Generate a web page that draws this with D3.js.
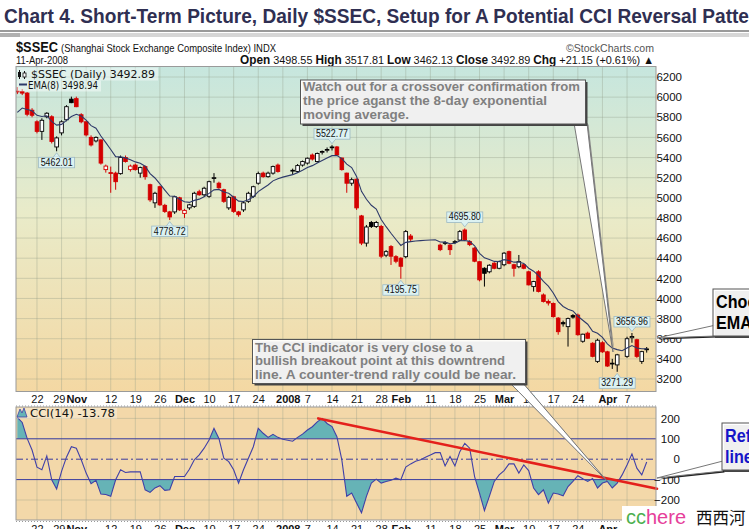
<!DOCTYPE html>
<html><head><meta charset="utf-8">
<script src="https://cdn.jsdelivr.net/npm/d3@7/dist/d3.min.js"></script>
<style>
html,body{margin:0;padding:0;background:#fff;overflow:hidden;}
svg{display:block;font-family:"Liberation Sans",Arial,sans-serif;}
</style></head><body>
<svg id="chart" width="749" height="529"></svg>
<script>
// ---------------- DATA ----------------
const titleText = "Chart 4. Short-Term Picture, Daily $SSEC, Setup for A Potential CCI Reversal Pattern";
const symbolText = "$SSEC";
const symbolName = "(Shanghai Stock Exchange Composite Index) INDX";
const dateText = "11-Apr-2008";
const quoteParts = [["Open", " 3498.55 "], ["High", " 3517.81 "], ["Low", " 3462.13 "], ["Close", " 3492.89 "], ["Chg", " +21.15 (+0.61%) \u25B2"]];
const legendPrice = "$SSEC (Daily) 3492.89";
const legendEma = "EMA(8) 3498.94";
const legendCci = "CCI(14) -13.78";

const openP = [6060,6055,6040,5870,5755,5660,5805,5805,5505,5645,5775,5980,5985,5825,5755,5600,5565,5575,5280,5250,
5245,5240,5400,5280,5325,5245,5310,5130,4950,5110,4925,4860,4860,5000,4845,4900,4915,5060,5030,5015,
5195,5145,5080,4900,5010,4860,4880,4965,5015,5145,5245,5210,5245,5325,5262,5262,5270,5262,5325,5345,
5425,5360,5455,5475,5505,5505,5395,5245,5145,5185,4820,4550,4755,4715,4715,4430,4515,4415,4400,4415,
4620,4590,4590,4590,4590,4590,4530,4550,4530,4560,4580,4680,4565,4500,4365,4300,4265,4350,4300,4335,
4465,4335,4315,4335,4265,4118,4265,4035,3970,3950,3805,3760,3720,3830,3835,3575,3655,3555,3375,3560,
3470,3350,3340,3440,3425,3610,3590,3375,3498.55];
const highP = [6100,6080,6050,5890,5770,5790,5850,5820,5610,5770,5920,6005,6005,5840,5760,5620,5610,5580,5330,5310,
5260,5420,5420,5330,5340,5310,5320,5140,5060,5120,4940,4870,5020,5010,4890,4940,5060,5080,5110,5170,
5245,5160,5090,5020,5020,4870,4960,5060,5120,5260,5260,5260,5320,5340,5262,5262,5290,5335,5370,5400,
5440,5450,5470,5500,5522.77,5515,5400,5250,5200,5190,4830,4730,4770,4770,4730,4480,4530,4430,4410,4680,
4640,4590,4590,4590,4590,4590,4545,4570,4540,4580,4680,4695.80,4580,4510,4370,4310,4340,4360,4375,4460,
4475,4345,4432,4345,4275,4175,4280,4050,3990,3960,3815,3780,3810,3845,3850,3650,3670,3565,3600,3575,
3480,3400,3450,3440,3620,3656.96,3600,3480,3517.81];
const lowP = [6030,6020,5810,5800,5640,5575,5790,5540,5462.01,5620,5760,5940,5900,5740,5610,5510,5550,5330,5250,5050,
5080,5230,5350,5260,5270,5200,5180,4960,4900,4920,4850,4778.72,4840,4870,4800,4880,4900,5020,5010,5000,
5150,5090,4950,4880,4850,4812,4860,4950,5000,5130,5200,5200,5230,5250,5262,5262,5230,5250,5310,5330,
5370,5350,5430,5450,5470,5420,5270,5050,5120,4880,4530,4515,4700,4700,4400,4410,4333,4350,4195.75,4400,
4570,4590,4590,4590,4590,4590,4470,4530,4432,4540,4570,4570,4520,4360,4170,4118,4250,4290,4290,4320,
4340,4217,4300,4290,4130,4068,4060,3960,3930,3810,3640,3720,3522,3800,3630,3560,3600,3415,3360,3460,
3320,3300,3271.29,3440,3410,3560,3410,3350,3462.13];
const closeP = [6055,6040,5830,5820,5660,5770,5840,5560,5595,5755,5905,5945,5905,5755,5625,5525,5600,5345,5315,5245,
5160,5400,5360,5315,5280,5300,5210,4980,5045,4930,4865,4810,5010,4880,4875,4930,5045,5030,5095,5160,
5200,5100,4965,5005,4865,4832,4950,5045,5110,5240,5210,5245,5310,5262,5262,5262,5273,5320,5360,5393,
5385,5440,5460,5480,5500,5425,5280,5145,5180,4900,4550,4710,4715,4755,4420,4465,4420,4370,4320,4664,
4590,4590,4590,4590,4590,4590,4485,4555,4485,4565,4664,4585,4535,4370,4185,4250,4330,4300,4365,4450,
4350,4300,4366,4300,4135,4168,4070,3970,3955,3820,3670,3748,3800,3815,3640,3645,3605,3425,3585,3470,
3329,3357,3440,3440,3600,3622,3425,3471.74,3492.89];
const emaSeed = 5790;   // EMA(8) value just before the first bar
const cciValues = [205,180,102,45,-39,-52,16,-101,-146,-60,10,61,54,-3,-68,-120,-104,-171,-173,-182,
-101,-52,-65,-62,-62,-62,-150,-163,-141,-130,-153,-150,-85,-85,-85,-49,-3,21,54,94,
151,102,5,-12,-52,-117,-52,5,61,151,127,107,122,107,98,93,88,107,123,143,
159,183,200,175,160,110,-3,-182,-166,-215,-263,-182,-117,-98,-117,-109,-103,-93,-101,-39,
-23,-10,-3,10,21,32,32,-33,13,-33,37,78,54,-85,-166,-252,-182,-109,-77,-56,
-23,-23,-68,-28,-56,-141,-174,-150,-215,-166,-171,-179,-134,-109,-81,-96,-109,-95,-141,-117,
-109,-141,-117,-77,-28,26,-44,-77,-13.78];

const priceTicks = [3200,3400,3600,3800,4000,4200,4400,4600,4800,5000,5200,5400,5600,5800,6000,6200];
const cciTicks = [-200,-100,0,100,200];
const dateLabels = [["2007-10-22","22"],["2007-10-29","29"],["2007-11-01","Nov"],["2007-11-12","12"],["2007-11-19","19"],["2007-11-26","26"],
["2007-12-03","Dec"],["2007-12-10","10"],["2007-12-17","17"],["2007-12-24","24"],["2008-01-01","2008"],["2008-01-07","7"],["2008-01-14","14"],
["2008-01-21","21"],["2008-01-28","28"],["2008-02-01","Feb"],["2008-02-11","11"],["2008-02-18","18"],["2008-02-25","25"],["2008-03-03","Mar"],
["2008-03-10","10"],["2008-03-17","17"],["2008-03-24","24"],["2008-04-01","Apr"],["2008-04-07","7"]];
const extremeLabels = [["2007-10-26","5462.01","low"],["2007-11-28","4778.72","low"],["2008-01-14","5522.77","high"],["2008-02-01","4195.75","low"],
["2008-02-20","4695.80","high"],["2008-04-03","3271.29","low"],["2008-04-08","3656.96","high"]];
const trendLine = [[61.2, 200], [130.1, -145]];   // [bar position, CCI value]
const noteTop = ["Watch out for a crossover confirmation from","the price aganst the 8-day exponential","moving average."];
const noteBottom = ["The CCI indicator is very close to a","bullish breakout point at this downtrend","line.  A counter-trend rally could be near."];
const noteRight1 = ["Choose","EMA"];
const noteRight2 = ["Reference","line"];

// ---------------- SETUP ----------------
const svg = d3.select("#chart");
const fmt = d3.timeFormat("%Y-%m-%d");
const dates = d3.timeDay.range(new Date(2007,9,16), new Date(2008,3,12)).filter(d => d.getDay() !== 0 && d.getDay() !== 6);
const dateKeys = dates.map(fmt);
const N = dates.length;
const idxOf = s => dateKeys.indexOf(s);
const data = dates.map((d,i) => ({i, o:openP[i], h:highP[i], l:lowP[i], c:closeP[i], cci:cciValues[i]}));
let e = emaSeed; data.forEach(d => { e = e + (d.c - e) * 2/9; d.ema = e; });

const PX0 = 16, PX1 = 656, PY0 = 66.5, PY1 = 391.5, CY0 = 407, CY1 = 520;
const x = d3.scaleLinear().domain([0, N-1]).range([17.3, 646.7]);
const y = d3.scaleLinear().domain([3200, 6200]).range([379, 77]);
const yc = d3.scaleLinear().domain([-200, 200]).range([500, 418.4]);

const defs = svg.append("defs");
const g1 = defs.append("linearGradient").attr("id","pg").attr("x1",0).attr("y1",0).attr("x2",0).attr("y2",1);
g1.append("stop").attr("offset","0%").attr("stop-color","#c6e6de");
g1.append("stop").attr("offset","45%").attr("stop-color","#e9ebc9");
g1.append("stop").attr("offset","100%").attr("stop-color","#f4d8a3");
defs.append("clipPath").attr("id","cp").append("rect").attr("x",PX0).attr("y",PY0).attr("width",PX1-PX0).attr("height",PY1-PY0);
defs.append("clipPath").attr("id","cc").append("rect").attr("x",PX0).attr("y",CY0).attr("width",PX1-PX0).attr("height",CY1-CY0);
defs.append("clipPath").attr("id","ccUp").append("rect").attr("x",PX0).attr("y",CY0).attr("width",PX1-PX0).attr("height",yc(100)-CY0);
defs.append("clipPath").attr("id","ccDn").append("rect").attr("x",PX0).attr("y",yc(-100)).attr("width",PX1-PX0).attr("height",CY1-yc(-100));

function fit(t, w){ t.attr("textLength", w).attr("lengthAdjust","spacingAndGlyphs"); return t; }

// ---------------- TITLE ----------------
const tt = svg.append("text").attr("x",4).attr("y",23).attr("font-size",21).attr("font-weight","bold").attr("fill","#2f2f52").text(titleText);
{
  const vis = titleText.indexOf("Pattern") + 5;
  const sub = tt.node().getSubStringLength(0, vis);
  const full = tt.node().getComputedTextLength();
  fit(tt, full * (745 / sub));
}
svg.append("rect").attr("x",0).attr("y",30).attr("width",749).attr("height",2).attr("fill","#9a9a9a");
svg.append("rect").attr("x",0).attr("y",33).attr("width",749).attr("height",4).attr("fill","#d6d6d6");
svg.append("rect").attr("x",0).attr("y",33).attr("width",20).attr("height",4).attr("fill","#b0b0b0");

// ---------------- HEADER ----------------
fit(svg.append("text").attr("x",16).attr("y",52).attr("font-size",15).attr("font-weight","bold").attr("fill","#111").text(symbolText), 42);
fit(svg.append("text").attr("x",61).attr("y",52).attr("font-size",11.5).attr("fill","#111").text(symbolName), 215);
fit(svg.append("text").attr("x",16).attr("y",64).attr("font-size",11.5).attr("fill","#111").text(dateText), 52);
fit(svg.append("text").attr("x",654).attr("y",52).attr("text-anchor","end").attr("font-size",11.5).attr("fill","#555").text("\u00A9StockCharts.com"), 88);
{
  const q = svg.append("text").attr("x",654).attr("y",64).attr("text-anchor","end").attr("font-size",11.5).attr("fill","#111");
  quoteParts.forEach(p => { q.append("tspan").attr("font-weight","bold").attr("font-size",12.5).text(p[0]); q.append("tspan").text(p[1]); });
  fit(q, 414);
}

// ---------------- PRICE PANEL ----------------
svg.append("rect").attr("x",PX0).attr("y",PY0).attr("width",PX1-PX0).attr("height",PY1-PY0).attr("fill","url(#pg)");
const mondays = data.filter(d => dates[d.i].getDay() === 1).map(d => d.i);
const pg = svg.append("g").attr("clip-path","url(#cp)");
pg.selectAll(".vg").data(mondays).join("line").attr("x1",d=>x(d)).attr("x2",d=>x(d)).attr("y1",PY0).attr("y2",PY1)
  .attr("stroke","#8f9a86").attr("stroke-opacity",0.35);
pg.selectAll(".hg").data(priceTicks).join("line").attr("x1",PX0).attr("x2",PX1).attr("y1",d=>y(d)).attr("y2",d=>y(d))
  .attr("stroke","#8f9a86").attr("stroke-opacity",0.35);

svg.append("rect").attr("x",PX0+1).attr("y",PY0+1).attr("width",141).attr("height",13).attr("fill","#fff").attr("opacity",0.45);
svg.append("rect").attr("x",PX0+1).attr("y",PY0+14).attr("width",84).attr("height",11).attr("fill","#fff").attr("opacity",0.45);

const candles = pg.selectAll(".cd").data(data.filter(d => d.h !== d.l)).join("g");
const colr = d => (d.i === 0 ? (d.c >= d.o) : d.c >= data[d.i-1].c) ? "#000" : "#d40000";
candles.append("line").attr("x1",d=>x(d.i)).attr("x2",d=>x(d.i)).attr("y1",d=>y(d.h)).attr("y2",d=>y(d.l)).attr("stroke",colr).attr("stroke-width",1);
candles.append("rect").attr("x",d=>x(d.i)-1.8).attr("width",3.6)
  .attr("y",d=>y(Math.max(d.o,d.c))).attr("height",d=>Math.max(0.8, Math.abs(y(d.o)-y(d.c))))
  .attr("fill",d=> d.c < d.o ? colr(d) : "#fff").attr("stroke",colr).attr("stroke-width",0.9);

pg.append("path").datum(data).attr("fill","none").attr("stroke","#2e3a6a").attr("stroke-width",1.1)
  .attr("d", d3.line().x(d=>x(d.i)).y(d=>y(d.ema)));

extremeLabels.forEach(([ds, txt, kind]) => {
  const d = data[idxOf(ds)]; const cx = x(d.i);
  const w = 36, h = 10.5;
  let top, tip, base;
  if (kind === "low") { tip = y(d.l) + 1.5; top = tip + 4.5; base = top; }
  else { tip = y(d.h) - 1.5; top = tip - 4.5 - h; base = top + h; }
  svg.append("path").attr("d", `M${cx-3.5},${base} L${cx},${tip} L${cx+3.5},${base} Z`).attr("fill","#d9f1f1").attr("stroke","#9bb8c4").attr("stroke-width",0.8);
  svg.append("rect").attr("x",cx-w/2).attr("y",top).attr("width",w).attr("height",h).attr("fill","#dcf2f2").attr("stroke","#9bb8c4").attr("stroke-width",0.8);
  svg.append("rect").attr("x",cx-3).attr("y",kind==="low"?top-0.5:base-0.5).attr("width",6).attr("height",1.2).attr("fill","#dcf2f2");
  fit(svg.append("text").attr("x",cx).attr("y",top+h-2).attr("text-anchor","middle").attr("font-size",10.5).attr("fill","#111").text(txt), 32);
});

{
  const lg = svg.append("g");
  lg.append("line").attr("x1",19.5).attr("x2",19.5).attr("y1",70).attr("y2",79).attr("stroke","#111");
  lg.append("rect").attr("x",18).attr("y",72).attr("width",3).attr("height",5).attr("fill","#111");
  lg.append("line").attr("x1",24.5).attr("x2",24.5).attr("y1",71).attr("y2",79).attr("stroke","#111");
  lg.append("rect").attr("x",23).attr("y",73).attr("width",3).attr("height",4).attr("fill","#fff").attr("stroke","#111").attr("stroke-width",0.8);
  fit(lg.append("text").attr("x",31).attr("y",78).attr("font-family","DejaVu Sans").attr("font-size",10.5).attr("fill","#111").text(legendPrice), 124);
  lg.append("line").attr("x1",19).attr("x2",27).attr("y1",84.5).attr("y2",84.5).attr("stroke","#2e3a6a").attr("stroke-width",2);
  fit(lg.append("text").attr("x",28).attr("y",89).attr("font-family","DejaVu Sans").attr("font-size",10.5).attr("fill","#111").text(legendEma), 70);
}
svg.append("rect").attr("x",PX0).attr("y",PY0).attr("width",PX1-PX0).attr("height",PY1-PY0).attr("fill","none").attr("stroke","#9a9a9a");

const ay = svg.append("g").attr("transform",`translate(682,0)`).call(d3.axisLeft(y).tickValues(priceTicks).tickSize(0).tickPadding(0).tickFormat(d3.format("d")));
ay.select(".domain").remove();
ay.selectAll("text").attr("font-family","Liberation Sans").attr("font-size",11.5).attr("fill","#111");

// ---------------- DATE BANDS ----------------
const lblIdx = dateLabels.map(d => idxOf(d[0]));
const isBold = s => isNaN(+s) || s.length === 4;
function dateAxis(yb){
  const a = svg.append("g").attr("transform",`translate(0,${yb})`).call(d3.axisBottom(x).tickValues(lblIdx).tickSize(0).tickFormat((d,k)=>dateLabels[k][1]));
  a.select(".domain").remove();
  const ts = a.selectAll("text").attr("y",0).attr("dy",0).attr("font-family","Liberation Sans").attr("font-size",11).attr("fill","#111")
    .attr("font-weight",(d,k)=> isBold(dateLabels[k][1]) ? "bold" : "normal").nodes();
  for (let k = 0; k < ts.length - 1; k++) {
    const b1 = ts[k].getBBox(), b2 = ts[k+1].getBBox();
    const t1 = ts[k].parentNode.transform.baseVal.consolidate().matrix.e, t2 = ts[k+1].parentNode.transform.baseVal.consolidate().matrix.e;
    const over = (t1 + b1.x + b1.width + 1) - (t2 + b2.x);
    if (over > 0) d3.select(ts[k]).attr("x", -over);
  }
}
svg.append("line").attr("x1",PX0).attr("x2",PX1).attr("y1",406).attr("y2",406).attr("stroke","#999").attr("stroke-dasharray","1,2");
dateAxis(403);

// ---------------- CCI PANEL ----------------
svg.append("rect").attr("x",PX0).attr("y",CY0).attr("width",PX1-PX0).attr("height",CY1-CY0).attr("fill","#f3d8a9");
const cg = svg.append("g").attr("clip-path","url(#cc)");
cg.selectAll(".vg").data(mondays).join("line").attr("x1",d=>x(d)).attr("x2",d=>x(d)).attr("y1",CY0).attr("y2",CY1)
  .attr("stroke","#8f9a86").attr("stroke-opacity",0.35);
cg.selectAll(".hg").data([-200,200]).join("line").attr("x1",PX0).attr("x2",PX1).attr("y1",d=>yc(d)).attr("y2",d=>yc(d))
  .attr("stroke","#8f9a86").attr("stroke-opacity",0.35);
cg.append("g").attr("clip-path","url(#ccUp)").append("path").datum(data).attr("fill","#66b3b6")
  .attr("d", d3.area().x(d=>x(d.i)).y0(yc(100)).y1(d=>yc(d.cci)));
cg.append("g").attr("clip-path","url(#ccDn)").append("path").datum(data).attr("fill","#66b3b6")
  .attr("d", d3.area().x(d=>x(d.i)).y0(yc(-100)).y1(d=>yc(d.cci)));
cg.selectAll(".ref").data([100,-100]).join("line").attr("x1",PX0).attr("x2",PX1).attr("y1",d=>yc(d)).attr("y2",d=>yc(d)).attr("stroke","#3b3b9e").attr("stroke-width",1);
cg.append("line").attr("x1",PX0).attr("x2",PX1).attr("y1",yc(0)).attr("y2",yc(0)).attr("stroke","#3b3b9e").attr("stroke-dasharray","7,3,2,3");
cg.append("path").datum(data).attr("fill","none").attr("stroke","#4040a8").attr("stroke-width",1.1)
  .attr("d", d3.line().x(d=>x(d.i)).y(d=>yc(d.cci)));
svg.append("line").attr("x1",x(trendLine[0][0])).attr("y1",yc(trendLine[0][1]))
  .attr("x2",x(trendLine[1][0])).attr("y2",yc(trendLine[1][1]))
  .attr("stroke","#e4201b").attr("stroke-width",2.6).attr("stroke-linecap","round");
svg.append("rect").attr("x",PX0+1).attr("y",CY0+1).attr("width",100).attr("height",11).attr("fill","#fff").attr("opacity",0.3);
svg.append("path").attr("d","M17,417 L20,409 L22,413 L24,408 L27,417 Z").attr("fill","#66b3b6").attr("stroke","#4040a8").attr("stroke-width",0.8);
fit(svg.append("text").attr("x",30).attr("y",417).attr("font-family","DejaVu Sans").attr("font-size",10.5).attr("fill","#111").text(legendCci), 85);
svg.append("rect").attr("x",PX0).attr("y",CY0).attr("width",PX1-PX0).attr("height",CY1-CY0).attr("fill","none").attr("stroke","#9a9a9a");
const ac = svg.append("g").attr("transform",`translate(680,0)`).call(d3.axisLeft(yc).tickValues(cciTicks).tickSize(0).tickPadding(0).tickFormat(d3.format("d")));
ac.select(".domain").remove();
ac.selectAll("text").attr("font-family","Liberation Sans").attr("font-size",11.5).attr("fill","#111");
svg.append("line").attr("x1",PX0).attr("x2",PX1).attr("y1",521.5).attr("y2",521.5).attr("stroke","#999").attr("stroke-dasharray","1,2");
dateAxis(533);

// ---------------- CALLOUTS ----------------
function tail(pts, shade){
  svg.append("path").attr("d","M"+pts.map(p=>[p[0]+1.5,p[1]+1.5].join(",")).join("L")+"Z").attr("fill",shade);
  svg.append("path").attr("d","M"+pts.map(p=>p.join(",")).join("L")+"Z").attr("fill","#fff").attr("stroke","#777").attr("stroke-width",1);
}
function box(x0,y0,w,h){
  svg.append("rect").attr("x",x0+2).attr("y",y0+2).attr("width",w).attr("height",h).attr("fill","#444");
  svg.append("rect").attr("x",x0).attr("y",y0).attr("width",w).attr("height",h).attr("fill","#fff").attr("fill-opacity",0.92).attr("stroke","#555").attr("stroke-width",1);
}
function bigText(x0, y0, txt, color){
  svg.append("g").attr("transform",`translate(${x0},${y0}) scale(0.85,1)`).append("text")
    .attr("font-size",19).attr("font-weight","bold").attr("fill",color).text(txt);
}
tail([[574,123],[587,123],[613,352]], "#888");
box(300.5,80,285,44);
[[noteTop[0],90.5,277],[noteTop[1],104.5,244],[noteTop[2],118.5,106]].forEach(([t,yy,w]) =>
  fit(svg.append("text").attr("x",303).attr("y",yy).attr("font-size",13.5).attr("font-weight","bold").attr("fill","#808080").text(t), w));

tail([[509,382],[522,382],[607,481]], "#888");
box(252.5,339.5,273,44);
[[noteBottom[0],351.5,218],[noteBottom[1],365,250],[noteBottom[2],378.5,261]].forEach(([t,yy,w]) =>
  fit(svg.append("text").attr("x",255).attr("y",yy).attr("font-size",13.5).attr("font-weight","bold").attr("fill","#808080").text(t), w));

tail([[716,325],[716,336],[657,338]], "#222");
box(713,289,60,47);
bigText(716, 308, noteRight1[0], "#000");
bigText(716, 329, noteRight1[1], "#000");

tail([[723,461],[723,471],[657,478]], "#222");
box(722,423,60,47);
bigText(725, 442, noteRight2[0], "#1515c8");
bigText(725, 463, noteRight2[1], "#1515c8");

svg.append("rect").attr("x",622).attr("y",506).attr("width",127).attr("height",23).attr("fill","#fff");
{
  const wm = svg.append("text").attr("x",626).attr("y",524).attr("font-size",20);
  wm.append("tspan").attr("fill","#4caf50").text("cc");
  wm.append("tspan").attr("fill","#e6409a").text("here");
  svg.append("text").attr("x",696).attr("y",524).attr("font-size",16.5).attr("font-family","Noto Sans CJK SC").attr("fill","#111").text("\u897F\u897F\u6CB3");
}
</script>
</body></html>
